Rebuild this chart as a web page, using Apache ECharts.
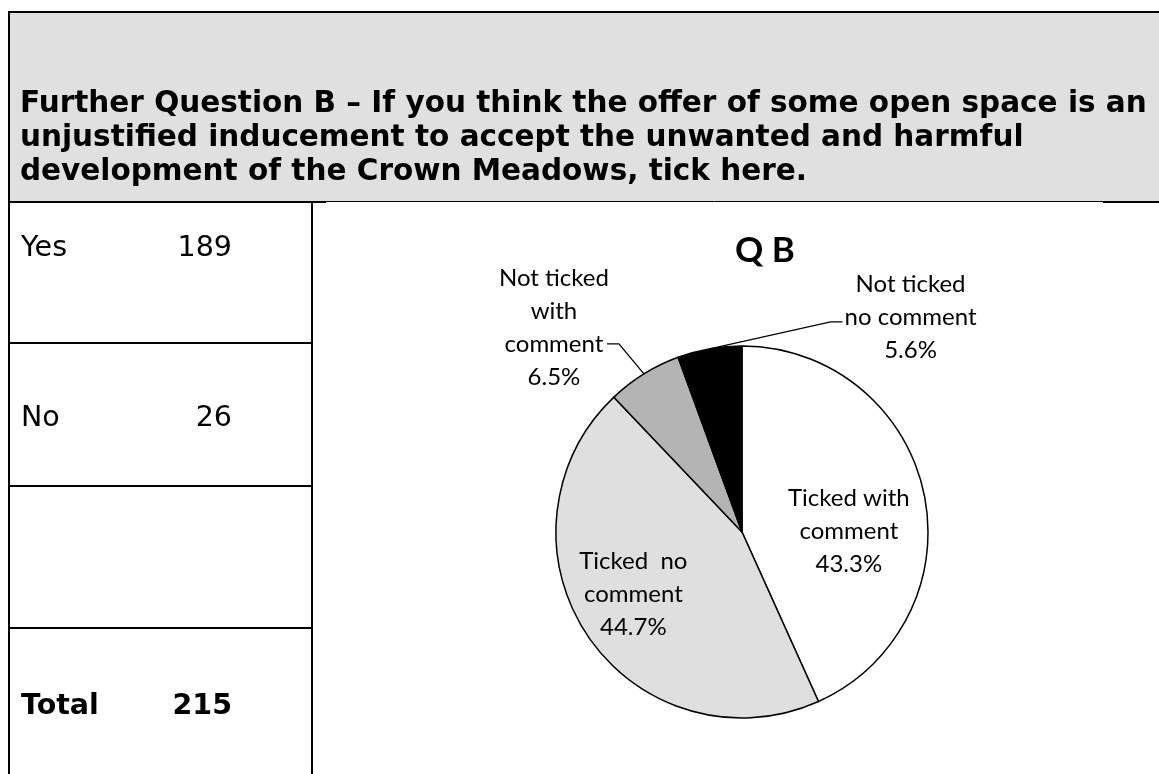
<!DOCTYPE html>
<html>
<head>
<meta charset="utf-8">
<script src="https://cdn.jsdelivr.net/npm/echarts@6/dist/echarts.min.js"></script>
<style>
  html, body { margin: 0; padding: 0; background: #ffffff; }
  #chart { width: 1159px; height: 774px; }
</style>
</head>
<body>
<div id="chart"></div>
<script>
// Question text shown in the grey header band
const questionLines = [
  'Further Question B \u2013 If you think the offer of some open space is an',
  'unjustified inducement to accept the unwanted and harmful',
  'development of the Crown Meadows, tick here.'
];

// Left-hand summary table
const tableLabels = ['Yes', 'No', '', 'Total'];
const tableCounts = [189, 26, null, 215];

// Pie slices (counts of responses)
const sliceNames = ['Ticked with\ncomment', 'Ticked  no\ncomment', 'Not ticked\nwith\ncomment', 'Not ticked\nno comment'];
const sliceCounts = [93, 96, 14, 12];
const sliceColors = ['#ffffff', '#dfdfdf', '#b4b4b4', '#000000'];

const chartTitle = 'Q B';

// ---- layout constants ----
const PIE_CX = 742, PIE_CY = 532, PIE_R = 186;
const headerTop = 12, headerBottom = 201;
const tableLeft = 9, tableDivider = 312;
const rowLines = [343, 486, 628];
const rowTextY = [249, 419, null, 707];
const headerFirstLineY = 104, headerLineHeight = 34;

const total = sliceCounts.reduce((a, b) => a + b, 0);

// mid-angle point of slice i on a circle of radius r (clockwise from 12 o'clock)
function sliceMidPoint(i, r) {
  let before = 0;
  for (let k = 0; k < i; k++) before += sliceCounts[k];
  const frac = (before + sliceCounts[i] / 2) / total;
  const ang = (90 - frac * 360) * Math.PI / 180;
  return [PIE_CX + r * Math.cos(ang), PIE_CY - r * Math.sin(ang)];
}

// leader-line geometry for the two small slices (offsets from the slice edge)
const outsideLabels = {
  2: { elbow: [-25, -30], end: [-12, 0], text: [-53, -16] },
  3: { elbow: [121, -27], end: [12, 0], text: [68, -5] }
};

const labelFont = 'Lato, "Open Sans", sans-serif';

const pieData = sliceNames.map((name, i) => {
  const item = {
    name: name,
    value: sliceCounts[i],
    itemStyle: { color: sliceColors[i] }
  };
  if (i === 0) {
    item.label = { position: 'inside', offset: [13, 19] };
    item.labelLine = { show: false };
  } else if (i === 1) {
    item.label = { position: 'inside', offset: [-29, 9] };
    item.labelLine = { show: false };
  } else {
    item.label = { position: 'outside' };
    item.labelLine = { show: true, length: 20, length2: 10 };
  }
  return item;
});

const graphics = [];

// grey header band
graphics.push({
  type: 'rect', z: 0,
  shape: { x: tableLeft, y: headerTop, width: 1159 - tableLeft, height: headerBottom - headerTop },
  style: { fill: '#e0e0e0' }
});
// borders
function line(x1, y1, x2, y2, w) {
  graphics.push({
    type: 'line', z: 5,
    shape: { x1: x1, y1: y1, x2: x2, y2: y2 },
    style: { stroke: '#000000', lineWidth: w }
  });
}
line(tableLeft - 1, headerTop, 1159, headerTop, 2);
line(tableLeft, headerTop - 1, tableLeft, 774, 2);
line(tableLeft - 1, headerBottom + 1, 326, headerBottom + 1, 2);
line(326, headerBottom + 0.5, 1103, headerBottom + 0.5, 1);
line(1103, headerBottom + 1, 1159, headerBottom + 1, 2);
line(tableDivider, headerBottom, tableDivider, 774, 2);
rowLines.forEach(y => line(tableLeft - 1, y, tableDivider + 1, y, 2));

// header text, one line per element
questionLines.forEach((t, i) => {
  graphics.push({
    type: 'text', z: 6,
    x: 20, y: headerFirstLineY + i * headerLineHeight,
    style: {
      text: t,
      font: 'bold 29.5px "DejaVu Sans", Verdana, sans-serif',
      fill: '#000000',
      align: 'left',
      verticalAlign: 'middle'
    }
  });
});

// table text
tableLabels.forEach((lab, i) => {
  if (rowTextY[i] == null) return;
  const bold = lab === 'Total';
  const font = (bold ? 'bold ' : '') + '28.5px "DejaVu Sans", Verdana, sans-serif';
  graphics.push({
    type: 'text', z: 6, x: 21, y: rowTextY[i],
    style: { text: lab, font: font, fill: '#000000', align: 'left', verticalAlign: 'middle' }
  });
  graphics.push({
    type: 'text', z: 6, x: 232, y: rowTextY[i],
    style: { text: String(tableCounts[i]), font: font, fill: '#000000', align: 'right', verticalAlign: 'middle' }
  });
});

// chart title
graphics.push({
  type: 'text', z: 6, x: 765, y: 251,
  style: {
    text: chartTitle,
    font: 'bold 35px ' + labelFont,
    fill: '#000000', align: 'center', verticalAlign: 'middle'
  }
});

const chart = echarts.init(document.getElementById('chart'), null, { renderer: 'canvas' });
chart.setOption({
  backgroundColor: '#ffffff',
  animation: false,
  graphic: graphics,
  series: [{
    type: 'pie',
    center: [PIE_CX, PIE_CY],
    radius: PIE_R,
    startAngle: 90,
    clockwise: true,
    avoidLabelOverlap: false,
    itemStyle: { borderColor: '#000000', borderWidth: 1.5 },
    label: {
      show: true,
      color: '#000000',
      fontFamily: labelFont,
      fontSize: 24,
      lineHeight: 33,
      align: 'center',
      formatter: p => p.name + '\n' + (p.value / total * 100).toFixed(1) + '%'
    },
    labelLine: { lineStyle: { color: '#000000', width: 1.3 } },
    labelLayout: function (params) {
      const spec = outsideLabels[params.dataIndex];
      if (!spec) return {};
      const p0 = sliceMidPoint(params.dataIndex, PIE_R);
      const p1 = [p0[0] + spec.elbow[0], p0[1] + spec.elbow[1]];
      const p2 = [p1[0] + spec.end[0], p1[1] + spec.end[1]];
      return {
        x: p2[0] + spec.text[0],
        y: p2[1] + spec.text[1],
        align: 'center',
        verticalAlign: 'middle',
        labelLinePoints: [p0, p1, p2]
      };
    },
    emphasis: { disabled: true },
    data: pieData
  }]
});
</script>
</body>
</html>
